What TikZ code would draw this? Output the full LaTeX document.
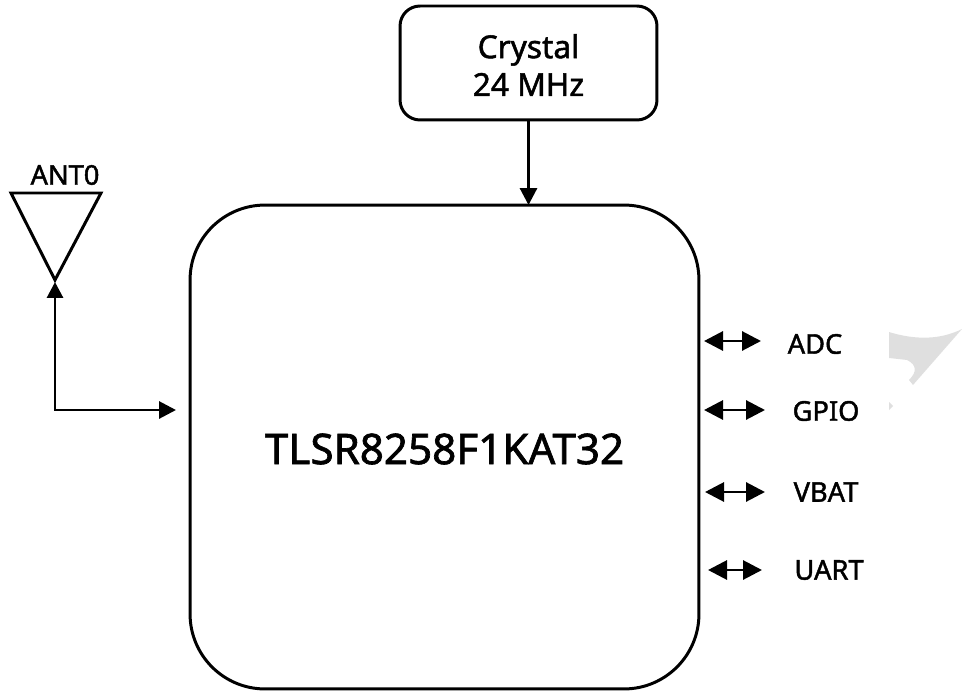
\documentclass[tikz,border=0pt]{standalone}
\usepackage{fontspec}
\setmainfont[FakeBold=1.6]{Noto Sans}
\usetikzlibrary{
  arrows.meta,
  positioning,
  calc
}
\tikzset{
  blockbox/.style={draw,line width=1.7pt,outer sep=0pt,inner sep=0pt,align=center},
  sigline/.style={line width=1.7pt,-{Triangle[length=0.34cm,width=0.34cm]}},
  busline/.style={line width=1.7pt,{Triangle[length=0.38cm,width=0.38cm]}-{Triangle[length=0.38cm,width=0.38cm]}},
  pinlabel/.style={inner sep=0pt,font=\fontsize{15.5}{18}\selectfont}
}

\begin{document}
\begin{tikzpicture}[x=0.02cm,y=-0.02cm]
  \useasboundingbox (0,0) rectangle (962,692);

  % Faint mark at the right edge
  \fill[gray!25] (889,332) .. controls (915,340) and (940,340) .. (962,329)
    -- (913,385) -- (909,380) .. controls (917,372) and (917,365) .. (907,360)
    -- (889,358) -- cycle;
  \fill[gray!25] (889,402) -- (893,406) -- (889,410) -- cycle;

  % Main chip and crystal
  \node[blockbox,rounded corners=1.5cm,minimum width=10.18cm,minimum height=9.68cm] (chip) at (444.5,447) {};
  \node[font=\fontsize{24}{29}\selectfont,inner sep=0pt] (chipname) at (444.5,449) {TLSR8258F1KAT32};
  \node[blockbox,rounded corners=0.4cm,minimum width=5.14cm,minimum height=2.28cm] (crystal) at (528.5,63) {};
  \node[font=\fontsize{18}{21.5}\selectfont,inner sep=0pt,align=center] (crystalname) at (528.5,65) {Crystal\\24 MHz};
  \draw[sigline] (crystal.south) -- (chip.north -| crystal.south);

  % Antenna
  \draw[line width=1.7pt,line join=miter] (11,193) -- (101,193) -- (55,280) -- cycle;
  \node[pinlabel] (antname) at (65,175) {ANT0};
  \coordinate (anttip) at (55,282);
  \coordinate (antbend) at (55,410);
  \coordinate (chipin) at (176,410);
  \draw[line width=1.7pt,{Triangle[length=0.32cm,width=0.32cm]}-{Triangle[length=0.34cm,width=0.34cm]}]
    (anttip) -- (antbend) -- (chipin);

  % Pins on the right side
  \foreach \pin/\xa/\xb/\yy/\xl/\yl in {ADC/704/761/341/815/344,GPIO/704/765/410/826/411,VBAT/705/765/492/826/492,UART/708/762/570/829/570}{
    \coordinate (\pin a) at (\xa,\yy);
    \coordinate (\pin b) at (\xb,\yy);
    \node[pinlabel] (\pin) at (\xl,\yl) {\pin};
    \draw[busline] (\pin a) -- (\pin b);
  }
\end{tikzpicture}
\end{document}
